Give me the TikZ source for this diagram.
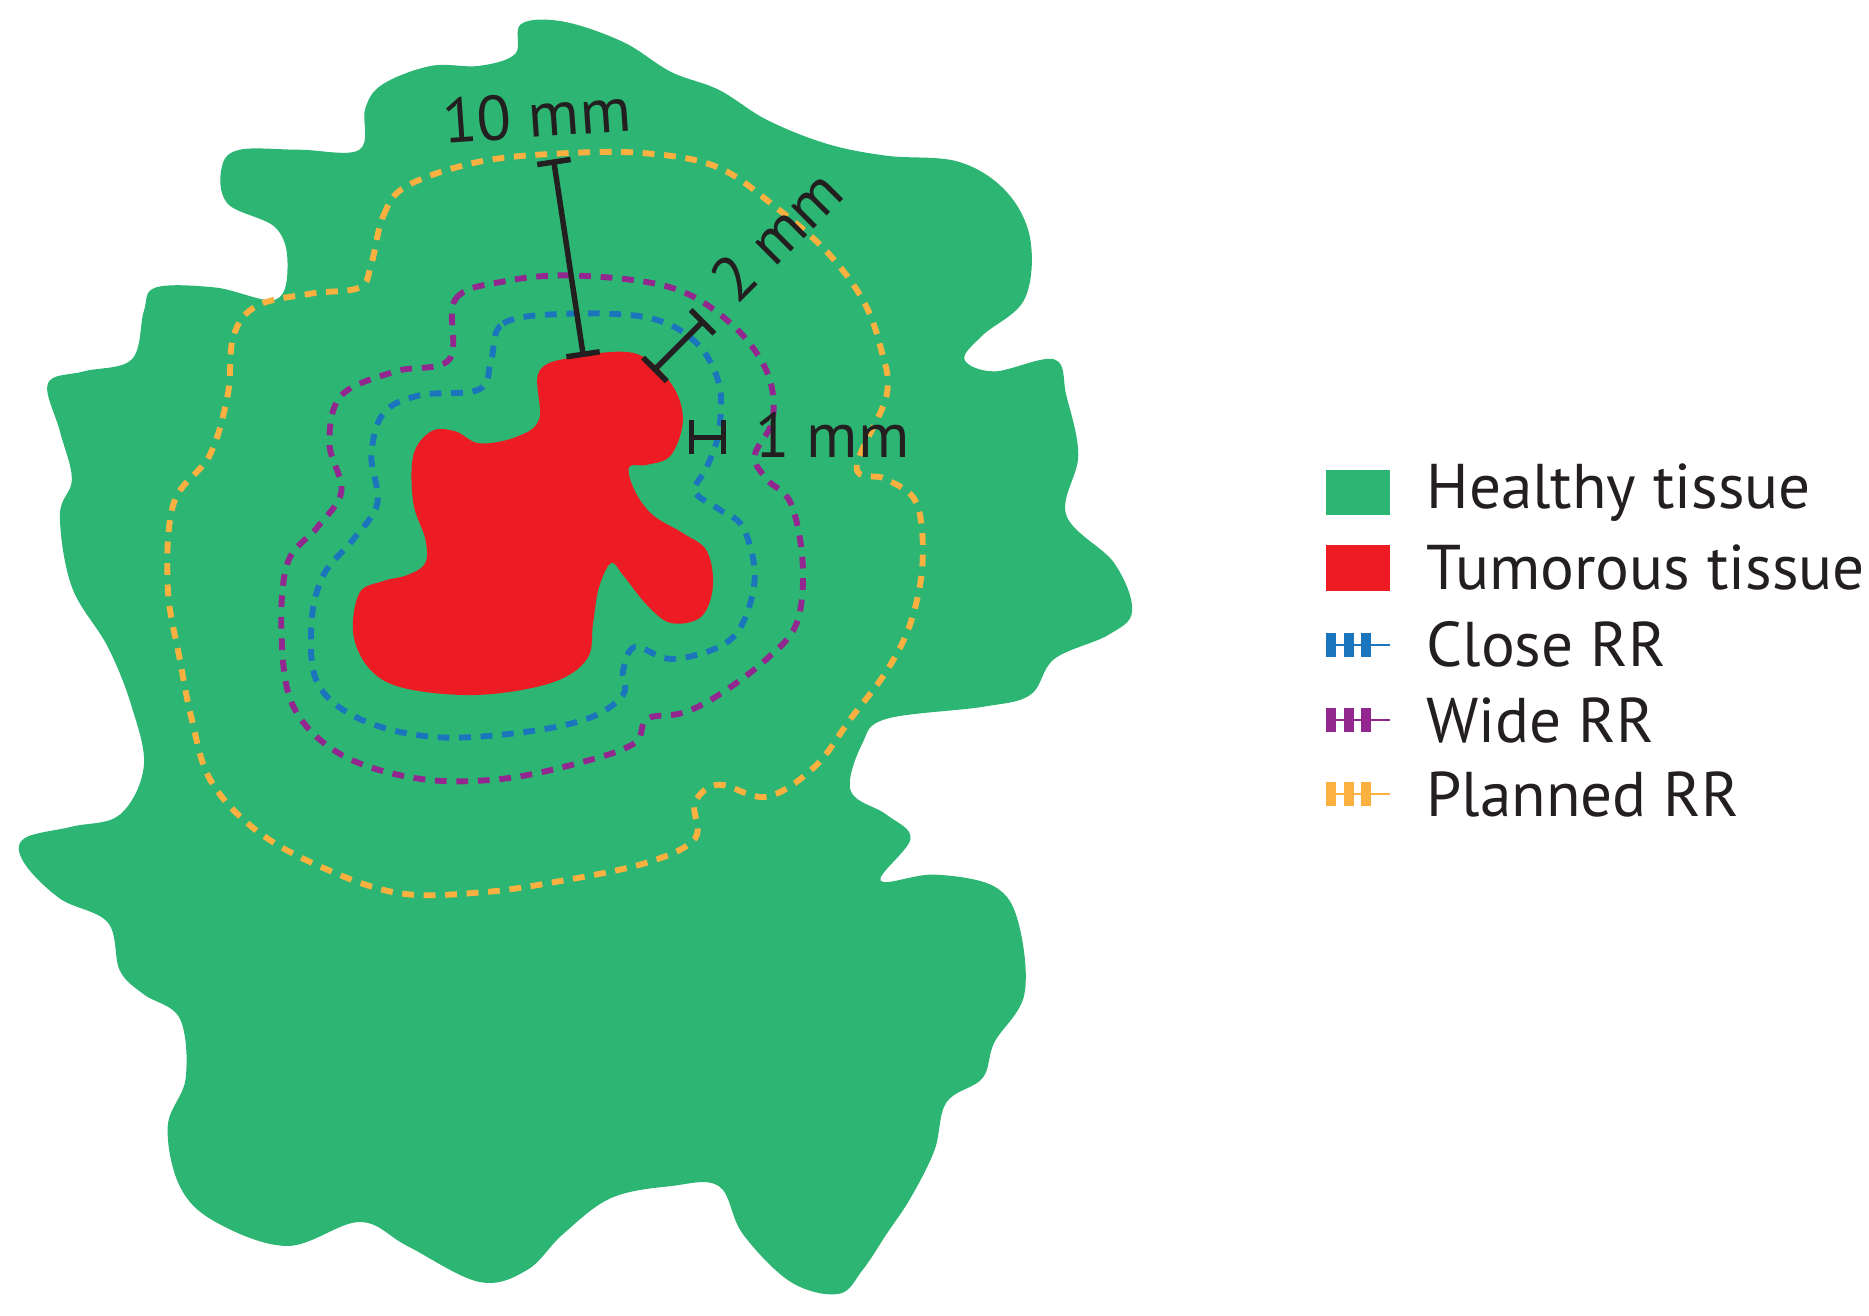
\documentclass[tikz,border=0pt]{standalone}
\usepackage{fontspec}
\setmainfont{PT Sans}
\usetikzlibrary{arrows.meta}
\definecolor{healthy}{HTML}{2DB673}
\definecolor{tumor}{HTML}{ED1C24}
\definecolor{closerr}{HTML}{1B75BC}
\definecolor{widerr}{HTML}{92278F}
\definecolor{plannedrr}{HTML}{FBB040}
\definecolor{ink}{HTML}{231F20}
\tikzset{
  rr/.style={line width=1.4pt, dash pattern=on 2.8pt off 2.3pt},
  dim/.style={line width=1.3pt, ink, {Bar[width=8pt]}-{Bar[width=8pt]}},
  lbl/.style={font=\fontsize{15}{18}\selectfont, text=ink, inner sep=0pt},
  leg/.style={lbl, anchor=west}
}
\begin{document}
\begin{tikzpicture}[x=0.01cm,y=-0.01cm]
\useasboundingbox (0,0) rectangle (1560,1098);
% healthy tissue
\fill [healthy] plot [smooth cycle, tension=0.6] coordinates {
(435,20) (470,18) (520,35) (560,60) (600,75) (640,100) (690,120) (740,130)
(800,135) (840,160) (860,200) (855,250) (820,280) (805,300) (830,310) (880,300)
(890,330) (900,380) (890,430) (930,470) (945,510) (925,530) (880,550) (860,580)
(820,590) (740,600) (720,620) (710,660) (740,680) (760,700) (735,735) (780,730)
(830,740) (850,770) (855,830) (830,870) (820,900) (790,920) (780,960) (760,1000)
(740,1030) (720,1060) (700,1080) (660,1070) (620,1030) (600,990) (560,990) (510,1000)
(470,1030) (440,1060) (400,1070) (340,1040) (300,1020) (240,1040) (180,1020) (150,990)
(140,940) (155,900) (150,850) (120,830) (100,810) (90,770) (50,750) (20,720)
(20,700) (60,690) (100,680) (120,640) (110,590) (90,540) (60,490) (50,430)
(60,400) (50,360) (40,320) (70,310) (110,300) (120,260) (130,240) (180,240)
(230,250) (240,220) (230,190) (190,170) (185,140) (200,125) (250,125) (300,125)
(305,90) (320,70) (360,55) (400,55) (430,45)};
% tumour
\fill [tumor] plot [smooth cycle, tension=0.6] coordinates {
(450,310) (480,298) (530,295) (560,320) (570,350) (560,380) (540,388) (525,390)
(530,410) (545,430) (570,445) (590,460) (595,490) (585,515) (560,520) (540,505)
(520,480) (510,470) (500,490) (495,520) (490,550) (460,570) (400,580) (340,575)
(310,560) (295,530) (300,495) (320,485) (340,480) (355,470) (355,450) (345,420)
(345,380) (360,360) (380,360) (400,370) (430,365) (450,350)};
% resection regions
\draw [rr, closerr] plot [smooth cycle, tension=0.6] coordinates {
(410,300) (420,270) (470,262) (540,265) (580,285) (600,320) (600,360) (590,390)
(580,410) (600,425) (620,440) (630,480) (620,520) (600,540) (560,550) (530,540)
(520,560) (520,580) (490,600) (430,612) (360,615) (300,600) (265,570) (260,520)
(270,480) (295,450) (315,420) (310,380) (320,345) (350,330) (400,325)};
\draw [rr, widerr] plot [smooth cycle, tension=0.6] coordinates {
(375,300) (380,250) (420,235) (480,230) (560,240) (610,270) (640,310) (645,350)
(630,380) (640,400) (660,420) (670,470) (665,520) (640,550) (600,580) (570,595)
(540,600) (530,620) (490,635) (420,650) (350,650) (285,630) (245,590) (235,530)
(240,470) (265,440) (285,410) (275,370) (285,330) (330,310)};
\draw [rr, plannedrr] plot [smooth cycle, tension=0.6] coordinates {
(310,220) (320,180) (340,155) (400,135) (470,128) (540,128) (600,140) (650,175)
(690,210) (720,250) (735,290) (740,330) (715,390) (740,400) (765,420) (770,470)
(760,520) (740,560) (710,600) (680,640) (640,665) (600,655) (580,670) (580,700)
(540,720) (470,735) (400,745) (330,745) (260,720) (210,690) (175,650) (160,600)
(150,550) (140,490) (145,420) (175,380) (190,330) (195,280) (215,255) (260,245)
(300,240)};
% margins
\coordinate (ten a) at (462,133);
\coordinate (ten b) at (487,298);
\coordinate (two a) at (588,267);
\coordinate (two b) at (545,310);
\coordinate (one a) at (575,365);
\coordinate (one b) at (606,365);
\draw [dim] (ten a) -- (ten b);
\draw [dim] (two a) -- (two b);
\draw [dim] (one a) -- (one b);
\node [lbl, rotate=4] (ten lbl) at (448,96) {10 mm};
\node [lbl, rotate=45] (two lbl) at (648,196) {2 mm};
\node [lbl, anchor=west] (one lbl) at (630,363) {1 mm};
% legend
\fill [healthy] (1107,392) rectangle (1160,430);
\fill [tumor] (1107,455) rectangle (1160,493);
\foreach \y/\c in {538/closerr, 601/widerr, 663/plannedrr} {
  \draw [\c, line width=0.5pt] (1107,\y) -- (1160,\y);
  \draw [\c, line width=0.2cm, dash pattern=on 2.4pt off 1.7pt] (1107,\y) -- (1145,\y);
}
\node [leg] (leg healthy) at (1190,411) {Healthy tissue};
\node [leg] (leg tumor) at (1190,474) {Tumorous tissue};
\node [leg] (leg close) at (1190,538) {Close RR};
\node [leg] (leg wide) at (1190,601) {Wide RR};
\node [leg] (leg planned) at (1190,663) {Planned RR};
\end{tikzpicture}
\end{document}
